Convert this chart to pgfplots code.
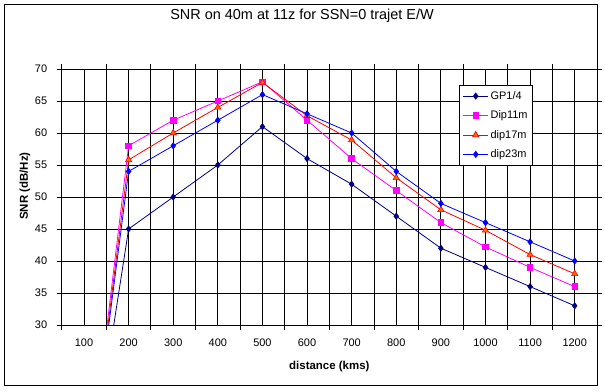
\documentclass[border=0pt]{standalone}
\usepackage{pgfplots}
\usepackage{pgfplotstable}
\pgfplotsset{compat=1.18}
\usepackage{fontspec}
\setmainfont{Liberation Sans}
\definecolor{navyc}{HTML}{000080}
\definecolor{magc}{HTML}{FF00FF}
\definecolor{redc}{HTML}{FF0000}
\definecolor{orangec}{HTML}{FF6600}
\definecolor{bluec}{HTML}{0000FF}
\pgfplotstableread{
x gp dip11 dip17 dip23
0 0 0 0 0
1 45 58 55.8 54
2 50 62 60 58
3 55 65 64 62
4 61 68 67.9 66
5 56 62 62.7 63
6 52 56 58.9 60
7 47 51 53 54
8 42 46 48 49
9 39 42.2 44.8 46
10 36 39 41 43
11 33 36 38 40
}\snrdata
\begin{document}
\begin{tikzpicture}
\useasboundingbox (-61.7bp,-67bp) rectangle (542.3bp,325bp);
\draw[line width=1bp] (-56.7bp,-60bp) rectangle (535.3bp,320bp);
\begin{axis}[
  at={(0,0)}, anchor=south west,
  scale only axis, width=535.3bp, height=256bp,
  xmin=-0.5, xmax=11.5, ymin=30, ymax=70,
  xtick={0,...,11},
  xticklabels={100,200,300,400,500,600,700,800,900,1000,1100,1200},
  minor xtick={-0.5,0.5,...,11.5},
  ytick={30,35,...,70},
  /pgf/number format/assume math mode=true,
  grid=both,
  major grid style={black, line width=0.9bp},
  minor grid style={black, line width=0.9bp},
  tick align=outside,
  major tick length=5bp, minor tick length=5bp,
  major x tick style={draw=none},
  minor x tick style={black, line width=0.9bp},
  y tick style={black, line width=0.9bp},
  axis line style={black, line width=0.9bp},
  tick label style={font=\fontsize{11}{13}\selectfont},
  xticklabel style={anchor=center, yshift=-13bp},
  yticklabel style={xshift=-6bp},
  title={SNR on 40m at 11z for SSN=0 trajet E/W},
  title style={at={(axis description cs:0.449,1.184)}, anchor=center, font=\fontsize{14.5}{16}\selectfont},
  xlabel={distance (kms)},
  ylabel={SNR (dB/Hz)},
  every axis x label/.style={at={(axis description cs:0.5,-0.164)}, anchor=center, font=\fontsize{11.5}{13}\selectfont\bfseries},
  every axis y label/.style={at={(axis description cs:-0.0686,0.543)}, anchor=center, rotate=90, font=\fontsize{11.5}{13}\selectfont\bfseries},
  legend style={at={(0.743,0.9375)}, anchor=north west, draw=black, line width=0.8bp,
    font=\fontsize{11}{13}\selectfont, inner xsep=3bp, inner ysep=4bp, row sep=6bp},
  legend cell align=left,
  legend image code/.code={\draw[mark repeat=2,mark phase=2] plot coordinates {(0bp,0bp) (12.5bp,0bp) (25bp,0bp)};},
]
\addplot[navyc, line width=0.8bp, mark=diamond*, mark size=3bp, mark options={fill=navyc, draw=navyc}] table[x=x,y=gp] {\snrdata};
\addlegendentry{GP1/4}
\addplot[magc, line width=0.8bp, mark=square*, mark size=2.8bp, mark options={fill=magc, draw=magc}] table[x=x,y=dip11] {\snrdata};
\addlegendentry{Dip11m}
\addplot[redc, line width=0.8bp, mark=triangle*, mark size=3.6bp, mark options={fill=orangec, draw=redc, line width=0.6bp}] table[x=x,y=dip17] {\snrdata};
\addlegendentry{dip17m}
\addplot[bluec, line width=0.8bp, mark=diamond*, mark size=3bp, mark options={fill=bluec, draw=bluec}] table[x=x,y=dip23] {\snrdata};
\addlegendentry{dip23m}
\end{axis}
\end{tikzpicture}
\end{document}
